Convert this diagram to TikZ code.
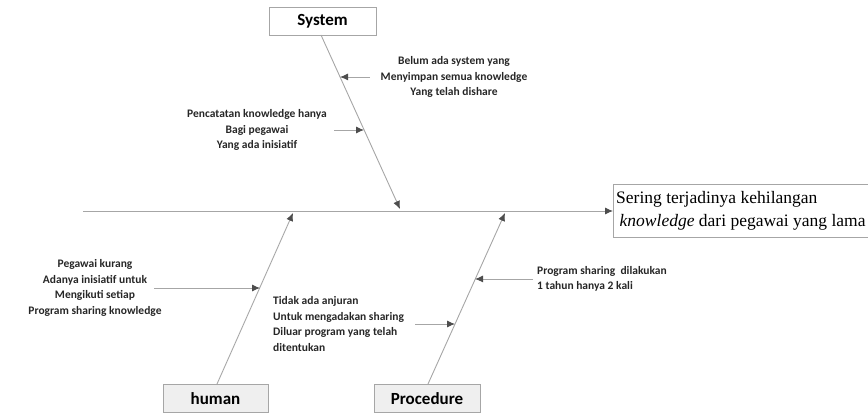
\documentclass[tikz,border=0pt]{standalone}
\usepackage{fontspec}
\setmainfont{Liberation Serif}
\newfontfamily\labelfont{Carlito}
\usetikzlibrary{arrows.meta}
\definecolor{boneline}{HTML}{A6A6A6}
\definecolor{tipgray}{HTML}{4D4D4D}
\definecolor{boxfill}{HTML}{EFEFEF}
\tikzset{
  bone/.style={draw=boneline, line width=0.9pt,
    -{Latex[length=8pt,width=7pt,fill=tipgray,color=tipgray]}},
  catbox/.style={draw=boneline, line width=0.9pt, minimum height=28pt,
    font=\labelfont\bfseries\fontsize{17}{19}\selectfont, inner sep=0pt},
  causetext/.style={font=\labelfont\bfseries\fontsize{11.5}{15.5}\selectfont,
    text=black!85, inner sep=0pt},
}
\begin{document}
\begin{tikzpicture}[x=1pt,y=-1pt]
  \useasboundingbox (0,0) rectangle (868,414);

  % effect box and spine
  \node[draw=boneline, line width=0.9pt, anchor=north west, minimum width=270pt,
        minimum height=53pt, inner sep=0pt] (effect) at (613,184) {};
  \node[anchor=west, align=left, inner sep=0pt,
        font=\fontsize{17.5}{23}\selectfont] (effecttext) at (616,211)
        {Sering terjadinya kehilangan\\\hspace*{3.5pt}\textit{knowledge} dari pegawai yang lama};
  \coordinate (tail) at (83,211);
  \draw[bone] (tail) -- (effect.west |- tail);

  % category boxes
  \node[catbox, fill=white, minimum width=107pt] (system) at (322.5,21) {System};
  \node[catbox, fill=boxfill, minimum width=105pt, anchor=north] (human) at (215.5,384) {human};
  \node[catbox, fill=boxfill, minimum width=106pt, anchor=north] (procedure) at (427,384) {Procedure};

  % bones
  \coordinate (sysend) at (400,209);
  \coordinate (humend) at (293,213);
  \coordinate (proend) at (505,213);
  \draw[bone] (321,35) -- (sysend);
  \draw[bone] (217,384) -- (humend);
  \draw[bone] (428,384) -- (proend);

  % causes
  \node[causetext, align=center] (c1) at (454,77)
    {Belum ada system yang\\Menyimpan semua knowledge\\Yang telah dishare};
  \coordinate (c1from) at (370,77);
  \coordinate (c1to) at (340,77);
  \draw[bone] (c1from) -- (c1to);

  \node[causetext, align=center] (c2) at (257,130)
    {Pencatatan knowledge hanya\\Bagi pegawai\\Yang ada inisiatif};
  \coordinate (c2from) at (334,130);
  \coordinate (c2to) at (364,130);
  \draw[bone] (c2from) -- (c2to);

  \node[causetext, align=center] (c3) at (95,288)
    {Pegawai kurang\\Adanya inisiatif untuk\\Mengikuti setiap\\Program sharing knowledge};
  \coordinate (c3from) at (154,288);
  \coordinate (c3to) at (260,288);
  \draw[bone] (c3from) -- (c3to);

  \node[causetext, align=left, anchor=west] (c4) at (273,324)
    {Tidak ada anjuran\\Untuk mengadakan sharing\\Diluar program yang telah\\ditentukan};
  \coordinate (c4from) at (415,324);
  \coordinate (c4to) at (455,324);
  \draw[bone] (c4from) -- (c4to);

  \node[causetext, align=left, anchor=west] (c5) at (537,279)
    {Program sharing\ \ dilakukan\\1 tahun hanya 2 kali};
  \coordinate (c5from) at (533,279);
  \coordinate (c5to) at (475,279);
  \draw[bone] (c5from) -- (c5to);
\end{tikzpicture}
\end{document}
